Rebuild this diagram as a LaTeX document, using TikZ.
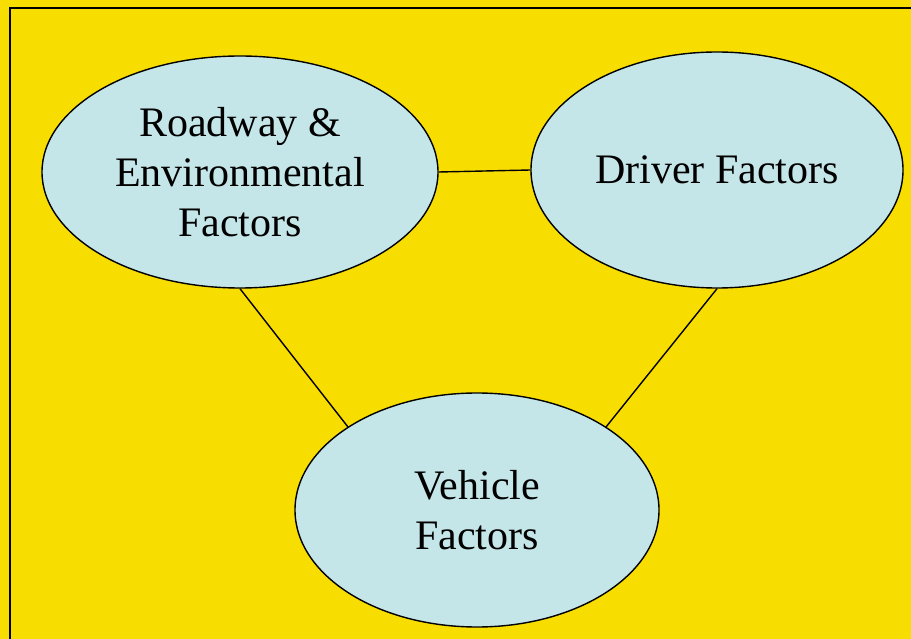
\documentclass[tikz,border=0pt]{standalone}
\usepackage{fontspec}
\setmainfont{Liberation Serif}
\usepackage{tikz}
\usetikzlibrary{shapes,shapes.geometric,positioning,calc}
\definecolor{bgyellow}{RGB}{248,221,0}
\definecolor{factorblue}{RGB}{197,230,232}

\begin{document}
\begin{tikzpicture}[
    x=1pt, y=-1pt,
    factor/.style={ellipse, draw=black, line width=1.4pt, fill=factorblue, inner sep=0pt, align=center, font=\fontsize{42}{50}\selectfont},
    link/.style={draw=black, line width=1.4pt}
]
    % Background and frame
    \fill[bgyellow] (0,0) rectangle (911,639);
    \useasboundingbox (0,0) rectangle (911,639);
    \draw[line width=2pt] (10,639) -- (10,8) -- (911,8);

    % The three factors
    \node[factor, minimum width=396pt, minimum height=232pt] (roadway) at (240,172) {Roadway \&\\Environmental\\Factors};
    \node[factor, minimum width=372pt, minimum height=236pt] (driver) at (717,170) {Driver Factors};
    \node[factor, minimum width=364pt, minimum height=234pt] (vehicle) at (477,510) {Vehicle\\Factors};

    % Links between them
    \draw[link] (roadway.east) -- (driver.west);
    \draw[link] (roadway.south) -- (vehicle.north west);
    \draw[link] (driver.south) -- (vehicle.north east);
\end{tikzpicture}
\end{document}
